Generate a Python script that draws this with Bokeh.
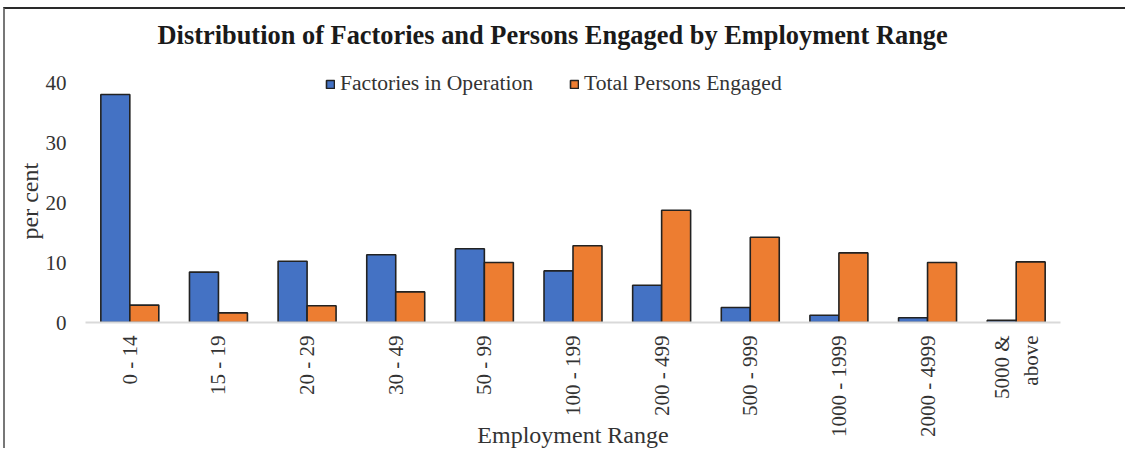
import math
from bokeh.plotting import figure
from bokeh.models import FactorRange, Range1d, Legend, LegendItem, FixedTicker, ColumnDataSource, Title
from bokeh.transform import dodge
from bokeh.embed import file_html
from bokeh.resources import INLINE

categories = ["0 - 14", "15 - 19", "20 - 29", "30 - 49", "50 - 99", "100 - 199",
              "200 - 499", "500 - 999", "1000 - 1999", "2000 - 4999", "5000 &\nabove"]
factories = [38.0, 8.4, 10.2, 11.3, 12.3, 8.6, 6.2, 2.5, 1.2, 0.8, 0.35]
persons = [2.9, 1.6, 2.8, 5.1, 10.0, 12.8, 18.7, 14.2, 11.6, 10.0, 10.1]
y_ticks = [0, 10, 20, 30, 40]

FONT = "Liberation Serif"
TXT = "#333333"

src = ColumnDataSource(dict(cat=categories, fac=factories, per=persons))

p = figure(x_range=FactorRange(*categories), y_range=Range1d(0, 44),
           width=1122, height=441, output_backend="svg", toolbar_location=None,
           min_border_left=80, min_border_right=67, min_border_top=48, min_border_bottom=127,
           title="Distribution of Factories and Persons Engaged by Employment Range")
p.styles = {"margin-left": "3px", "margin-top": "7px",
            "border-top": "2px solid #2a2a2a", "border-left": "2px solid #777777"}

p.title.text_font = FONT
p.title.text_font_size = "26.4px"
p.title.text_font_style = "bold"
p.title.text_color = "#1a1a1a"
p.title.align = "left"
p.title.offset = 72
p.title.standoff = 17

bw = 0.327
r1 = p.vbar(x=dodge("cat", -bw / 2, range=p.x_range), top="fac", width=bw, source=src,
            fill_color="#4472C4", line_color="#222222", line_width=1.6)
r2 = p.vbar(x=dodge("cat", bw / 2, range=p.x_range), top="per", width=bw, source=src,
            fill_color="#ED7D31", line_color="#222222", line_width=1.6)

legend = Legend(items=[LegendItem(label="Factories in Operation", renderers=[r1]),
                       LegendItem(label="Total Persons Engaged", renderers=[r2])],
                orientation="horizontal", location=(240, 226),
                border_line_color=None, background_fill_alpha=0,
                padding=0, margin=0, spacing=36, label_standoff=5,
                glyph_width=10, glyph_height=10,
                label_text_font=FONT, label_text_font_size="21.6px", label_text_color=TXT)
p.add_layout(legend)

p.xgrid.grid_line_color = None
p.ygrid.grid_line_color = None
p.outline_line_color = None

p.yaxis.ticker = FixedTicker(ticks=y_ticks)
p.yaxis.axis_line_color = None
p.yaxis.major_tick_line_color = None
p.yaxis.minor_tick_line_color = None
p.yaxis.major_label_standoff = 13
p.yaxis.major_label_text_font = FONT
p.yaxis.major_label_text_font_size = "21px"
p.yaxis.major_label_text_color = TXT

p.add_layout(Title(text="per cent", align="left", offset=83, standoff=0,
                   text_font=FONT, text_font_size="24px", text_font_style="normal",
                   text_color=TXT), "left")

p.xaxis.axis_line_color = "#d9d9d9"
p.xaxis.axis_line_width = 2
p.xaxis.major_tick_line_color = None
p.xaxis.minor_tick_line_color = None
p.xaxis.major_label_orientation = math.pi / 2
p.xaxis.major_label_standoff = 7
p.xaxis.major_label_text_font = FONT
p.xaxis.major_label_text_font_size = "21px"
p.xaxis.major_label_text_color = TXT
p.xaxis.axis_label = "Employment Range"
p.xaxis.axis_label_text_font = FONT
p.xaxis.axis_label_text_font_size = "24px"
p.xaxis.axis_label_text_font_style = "normal"
p.xaxis.axis_label_text_color = TXT
p.xaxis.axis_label_standoff = -18

open("out.html", "w").write(file_html(p, INLINE))
